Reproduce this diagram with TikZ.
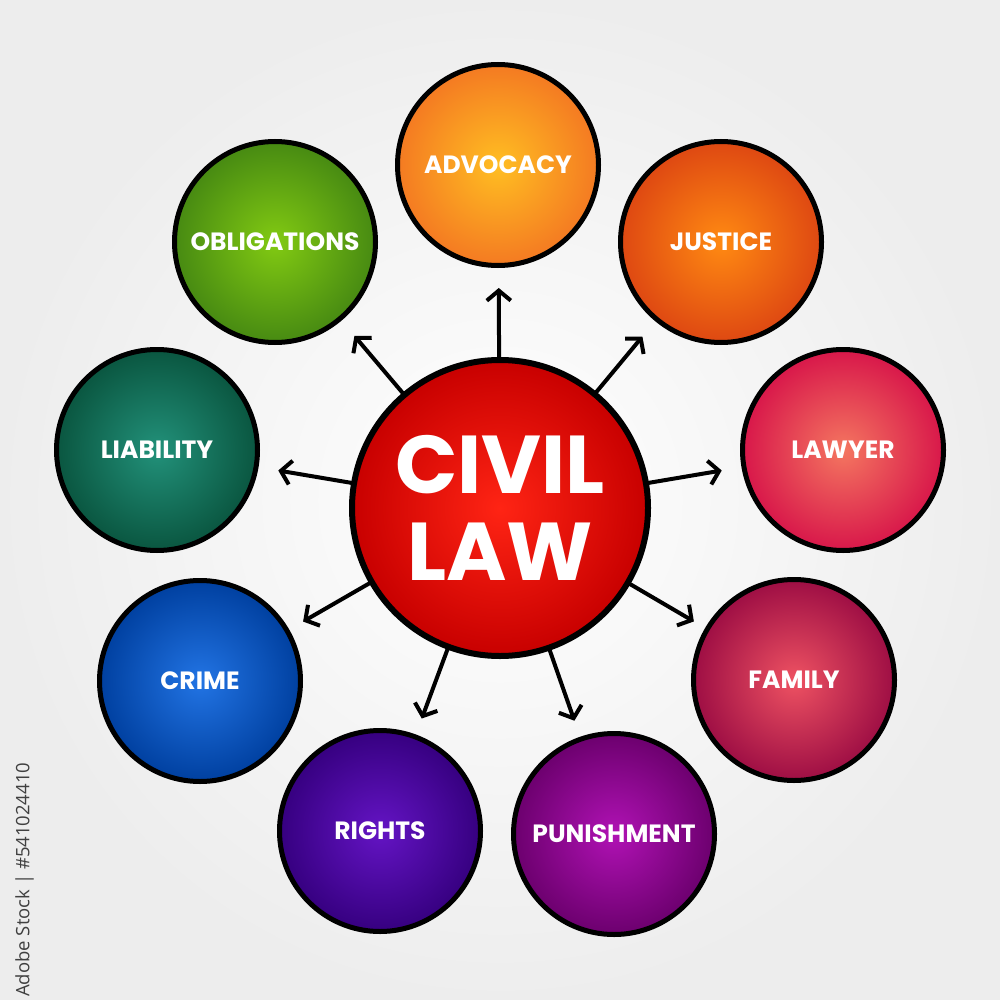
\documentclass[tikz,border=0pt]{standalone}
\usepackage{fontspec}
\setmainfont{Poppins}
\newfontfamily\wmfont{Open Sans}
\usetikzlibrary{arrows.meta}
\definecolor{advI}{HTML}{FFBE22}\definecolor{advO}{HTML}{F47A22}
\definecolor{jusI}{HTML}{FF8A12}\definecolor{jusO}{HTML}{DE4812}
\definecolor{lawI}{HTML}{F47660}\definecolor{lawO}{HTML}{D8174A}
\definecolor{famI}{HTML}{EE5262}\definecolor{famO}{HTML}{9E0E44}
\definecolor{punI}{HTML}{B012B4}\definecolor{punO}{HTML}{6C006E}
\definecolor{rigI}{HTML}{6414C4}\definecolor{rigO}{HTML}{360080}
\definecolor{criI}{HTML}{2274E4}\definecolor{criO}{HTML}{0040A0}
\definecolor{liaI}{HTML}{22917A}\definecolor{liaO}{HTML}{0A5640}
\definecolor{oblI}{HTML}{82CA12}\definecolor{oblO}{HTML}{478A12}
\definecolor{cenI}{HTML}{FF2414}\definecolor{cenO}{HTML}{C80000}
\begin{document}
\begin{tikzpicture}[x=1pt,y=-1pt,
  bubble/.style={circle, draw=black, line width=5pt, minimum size=201pt, inner sep=0pt,
    text=white, font=\bfseries\fontsize{25}{27}\selectfont},
  arr/.style={line width=4pt, -{Straight Barb[length=10pt,width=24pt]}, line cap=round, line join=round, shorten >=20pt}]
\useasboundingbox (0,0) rectangle (1000,1000);
\shade[inner color=white, outer color=black!7] (0,0) rectangle (1000,1000);

\node[bubble, inner color=advI, outer color=advO] (adv) at (498,165) {ADVOCACY};
\node[bubble, inner color=jusI, outer color=jusO] (jus) at (721,242) {JUSTICE};
\node[bubble, inner color=lawI, outer color=lawO] (law) at (843,450) {LAWYER};
\node[bubble, inner color=famI, outer color=famO] (fam) at (794,680) {FAMILY};
\node[bubble, inner color=punI, outer color=punO] (pun) at (614,834) {PUNISHMENT};
\node[bubble, inner color=rigI, outer color=rigO] (rig) at (380,831) {RIGHTS};
\node[bubble, inner color=criI, outer color=criO] (cri) at (200,681) {CRIME};
\node[bubble, inner color=liaI, outer color=liaO] (lia) at (157,450) {LIABILITY};
\node[bubble, inner color=oblI, outer color=oblO] (obl) at (275,242) {OBLIGATIONS};

\node[circle, draw=black, line width=6pt, minimum size=296pt, inner sep=0pt,
  inner color=cenI, outer color=cenO, text=white, align=center,
  font=\bfseries\fontsize{82}{87}\selectfont] (c) at (500,508) {CIVIL\\LAW};

\draw[arr] (c) -- (adv);
\draw[arr] (c) -- (jus);
\draw[arr] (c) -- (law);
\draw[arr, shorten >=13pt] (c) -- (fam);
\draw[arr, shorten >=17pt] (c) -- (pun);
\draw[arr, shorten >=17pt] (c) -- (rig);
\draw[arr, shorten >=16pt] (c) -- (cri);
\draw[arr] (c) -- (lia);
\draw[arr] (c) -- (obl);

\node[rotate=90, anchor=south west, inner sep=0pt, text=black!75,
  font=\wmfont\fontsize{18.5}{18.5}\selectfont] (wm) at (34,997) {Adobe Stock | \#541024410};
\end{tikzpicture}
\end{document}
